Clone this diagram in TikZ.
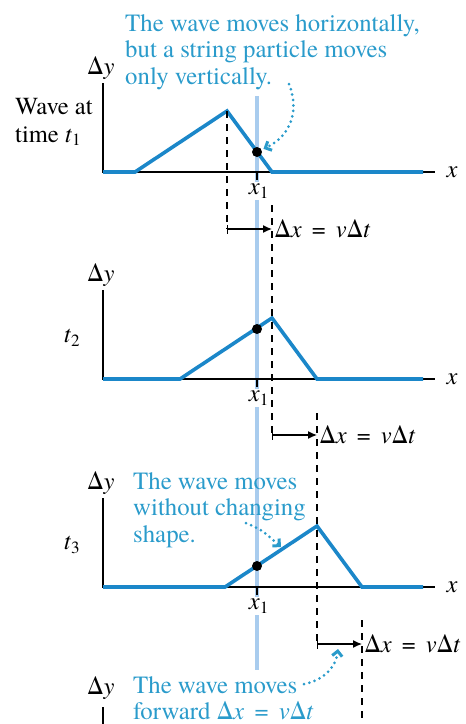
\documentclass[tikz,border=0pt]{standalone}
\usepackage{fontspec}
\setmainfont{TeX Gyre Termes}
\usepackage{xcolor}
\usepackage{tikz}
\usetikzlibrary{calc, arrows.meta, positioning}
\definecolor{waveblue}{HTML}{1B87C9}
\definecolor{noteblue}{HTML}{2A9BCB}
\definecolor{trackblue}{HTML}{A9CCEE}
\newcommand{\dxvdt}{Δ\textit{x}\, = \,\textit{v}Δ\textit{t}}
\tikzset{
  axis/.style={line width=1.4pt, black},
  wave/.style={line width=3.6pt, waveblue},
  trackline/.style={line width=4pt, trackblue},
  guide/.style={line width=1.3pt, dash pattern=on 7pt off 6pt},
  particle/.style={circle, fill=black, inner sep=0pt, minimum size=10pt},
  shiftarrow/.style={line width=1.3pt, {Bar[width=9pt]}-{Latex[length=9pt,width=8pt]}},
  lbl/.style={inner sep=0pt, font=\fontsize{24.5}{28}\selectfont},
  note/.style={text=noteblue, align=left, inner sep=0pt,
    font=\fontsize{24.8}{26.5}\selectfont},
  hint/.style={noteblue, line width=3pt, dash pattern=on 0pt off 5.5pt,
    line cap=round, -{Straight Barb[length=5pt,width=10pt]}},
}

\begin{document}
\begin{tikzpicture}[x=1pt, y=-1pt]
  \useasboundingbox (0,0) rectangle (466,724);

  % --- Spor for partikel ved x1 ---
  \draw[trackline] (257,96) -- (257,670);

  % --- Tre snapshots af bølgen ---
  \foreach \i/\yb/\dx/\dy in {1/172/0/20, 2/379/45/50, 3/587/90/21} {
    \draw[axis] (103,\yb-89) -- (103,\yb) -- (435,\yb);
    \draw[axis] (257,\yb) -- (257,\yb+8);
    \draw[wave] (103,\yb) -- (135+\dx,\yb) -- (227+\dx,\yb-61)
      -- (272+\dx,\yb) -- (423,\yb);
    \node[particle] (dot\i) at (257,\yb-\dy) {};
    \node[lbl] (dy\i) at (101,\yb-104) {Δ\textit{y}};
    \node[lbl] (xa\i) at (452,\yb) {\textit{x}};
    \node[lbl, fill=white, inner sep=2pt] (xo\i) at (259,\yb+19)
      {\textit{x}\textsubscript{1}};
  }

  % --- Tidslabels ---
  \node[lbl, align=left, anchor=west] (t1) at (15,122) {Wave at\\time \textit{t}\textsubscript{1}};
  \node[lbl] (t2) at (72,338) {\textit{t}\textsubscript{2}};
  \node[lbl] (t3) at (72,545) {\textit{t}\textsubscript{3}};

  % --- Fjerde (afskåret) akse ---
  \node[lbl] (dy4) at (101,688) {Δ\textit{y}};
  \draw[axis] (103,707) -- (103,726);

  % --- Stiplede hjælpelinjer ---
  \draw[guide] (227,111) -- (227,229);
  \draw[guide] (272,205) -- (272,435);
  \draw[guide] (317,413) -- (317,644);
  \draw[guide] (362,620) -- (362,726);

  % --- Forskydning Δx = vΔt ---
  \coordinate (s1) at (227,229);
  \coordinate (e1) at (272,229);
  \coordinate (s2) at (272,435);
  \coordinate (e2) at (317,435);
  \coordinate (s3) at (317,644);
  \coordinate (e3) at (362,644);
  \draw[shiftarrow] (s1) -- (e1) node[lbl, right=2pt] (m1) {\dxvdt};
  \draw[shiftarrow] (s2) -- (e2) node[lbl, right=2pt] (m2) {\dxvdt};
  \draw[shiftarrow] (s3) -- (e3) node[lbl, right=2pt] (m3) {\dxvdt};

  % --- Forklaringer ---
  \node[note, anchor=west] (n1) at (125,52)
    {The wave moves horizontally,\\but a string particle moves\\only vertically.};
  \node[note, anchor=west] (n2) at (133,510)
    {The wave moves\\without changing\\shape.};
  \node[note, anchor=west] (n3) at (133,698)
    {The wave moves\\forward \dxvdt};

  \coordinate (h1) at (289,84);
  \coordinate (h2) at (246,523);
  \coordinate (w3) at (281,547);
  \coordinate (h3) at (304,684);
  \coordinate (a3) at (338,649);
  \draw[hint, shorten >=2pt] (h1) .. controls (300,112) and (290,136) .. (dot1);
  \draw[hint] (h2) .. controls (262,530) .. (w3);
  \draw[hint] (h3) .. controls (325,680) and (336,666) .. (a3);

\end{tikzpicture}
\end{document}
